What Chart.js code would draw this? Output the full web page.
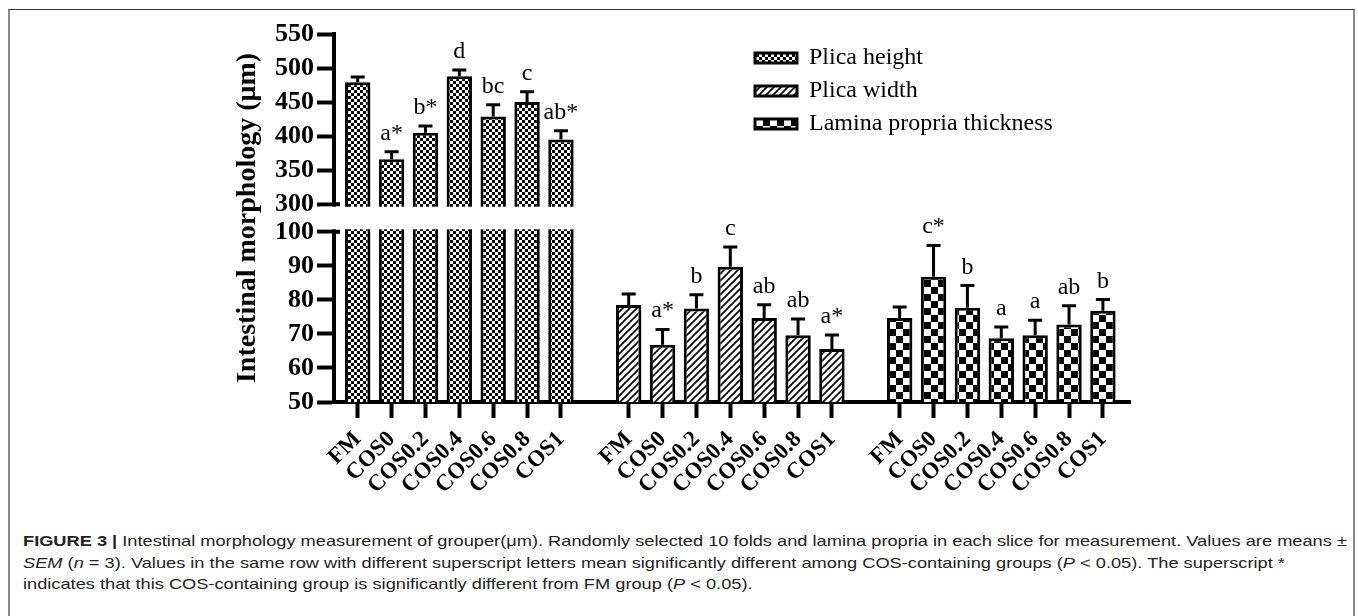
<!DOCTYPE html>
<html>
<head>
<meta charset="utf-8">
<script src="https://cdn.jsdelivr.net/npm/chart.js@4.4.0/dist/chart.umd.min.js"></script>
<style>
  html, body { margin: 0; padding: 0; background: #fff; }
  body { width: 1358px; height: 616px; position: relative; overflow: hidden; }
  #frame { position: absolute; left: 8px; top: 9px; width: 1347px; height: 700px; box-sizing: border-box;
           border: 1px solid #333; border-left: 2px solid #888; border-right: 2px solid #888; }
  #chart { position: absolute; left: 0; top: 0; }
  #caption { position: absolute; left: 23px; top: 530px; font-family: "Liberation Sans", Arial, sans-serif;
             font-size: 15px; line-height: 21.5px; color: #222; white-space: nowrap;
             transform: scaleX(1.215); transform-origin: 0 0; }
</style>
</head>
<body>
<div id="frame"></div>
<canvas id="chart" width="1358" height="530"></canvas>
<div id="caption"><b>FIGURE 3 |</b> Intestinal morphology measurement of grouper(μm). Randomly selected 10 folds and lamina propria in each slice for measurement. Values are means ±<br><i>SEM</i> (<i>n</i> = 3). Values in the same row with different superscript letters mean significantly different among COS-containing groups (<i>P</i> &lt; 0.05). The superscript *<br>indicates that this COS-containing group is significantly different from FM group (<i>P</i> &lt; 0.05).</div>
<script>
var treatments = ['FM', 'COS0', 'COS0.2', 'COS0.4', 'COS0.6', 'COS0.8', 'COS1'];
var seriesNames = ['Plica height', 'Plica width', 'Lamina propria thickness'];

var plicaHeight    = [479, 366, 405, 488, 429, 450, 395];
var plicaHeightSem = [8, 11, 10, 9, 17, 15, 13];
var plicaWidth     = [78.5, 66.8, 77.5, 89.7, 74.7, 69.6, 65.6];
var plicaWidthSem  = [3.2, 4.5, 4, 5.8, 3.9, 4.8, 4.1];
var lamina         = [74.7, 86.8, 77.7, 68.7, 69.6, 72.8, 76.8];
var laminaSem      = [3.2, 9.2, 6.5, 3.3, 4.4, 5.5, 3.3];

var heightLetters = ['', 'a*', 'b*', 'd', 'bc', 'c', 'ab*'];
var widthLetters  = ['', 'a*', 'b', 'c', 'ab', 'ab', 'a*'];
var laminaLetters = ['', 'c*', 'b', 'a', 'a', 'ab', 'b'];

var lowTicks  = [50, 60, 70, 80, 90, 100];
var highTicks = [300, 350, 400, 450, 500, 550];

var SERIF = '"Liberation Serif", "Times New Roman", serif';

// broken y axis: 50-100 as is, 300-550 squeezed (1:5) above a small gap
var BREAK_GAP = 8.1;
function toAxis(v){
  return v <= 100 ? v : 100 + BREAK_GAP + (v - 300) / 5;
}
function slot(g, i){ return g * 8 + i; }

function checkerPattern(cell){
  var c = document.createElement('canvas');
  c.width = c.height = cell * 2;
  var g = c.getContext('2d');
  g.fillStyle = '#fff'; g.fillRect(0, 0, c.width, c.height);
  g.fillStyle = '#000';
  g.fillRect(0, 0, cell, cell);
  g.fillRect(cell, cell, cell, cell);
  return g.createPattern(c, 'repeat');
}
function hatchPattern(step){
  var c = document.createElement('canvas');
  c.width = c.height = step;
  var g = c.getContext('2d');
  g.fillStyle = '#fff'; g.fillRect(0, 0, step, step);
  g.strokeStyle = '#000'; g.lineWidth = 1.6;
  g.beginPath();
  g.moveTo(-1, step + 1); g.lineTo(step + 1, -1);
  g.moveTo(-1, 1); g.lineTo(1, -1);
  g.moveTo(step - 1, step + 1); g.lineTo(step + 1, step - 1);
  g.stroke();
  return g.createPattern(c, 'repeat');
}

var series = [
  {values: plicaHeight, sem: plicaHeightSem, letters: heightLetters, fill: checkerPattern(3)},
  {values: plicaWidth,  sem: plicaWidthSem,  letters: widthLetters,  fill: hatchPattern(7)},
  {values: lamina,      sem: laminaSem,      letters: laminaLetters, fill: checkerPattern(7)}
];

var xSlots = [];
series.forEach(function(s, g){ treatments.forEach(function(t, i){ xSlots.push(slot(g, i)); }); });
var yTickValues = lowTicks.concat(highTicks);

var datasets = series.map(function(s, g){
  return {
    label: seriesNames[g],
    data: s.values.map(function(v, i){ return {x: slot(g, i), y: toAxis(v)}; }),
    backgroundColor: s.fill,
    borderColor: '#000',
    borderWidth: 3,
    grouped: false,
    barPercentage: 0.75,
    categoryPercentage: 1
  };
});

var extras = {
  id: 'extras',
  afterLayout: function(chart){
    chart.legend.left = 746;
    chart.legend.top = 37;
  },
  afterDatasetsDraw: function(chart){
    var ctx = chart.ctx, xs = chart.scales.x, ys = chart.scales.y;
    var yHi = ys.getPixelForValue(toAxis(300)), yLo = ys.getPixelForValue(100);
    var xEnd = xs.getPixelForValue(6.7);
    ctx.save();
    // cut the axis and the tall bars at the break
    ctx.fillStyle = '#fff';
    ctx.fillRect(ys.right - 14, yHi + 2.5, xEnd - ys.right + 14, yLo - yHi - 5);
    ctx.fillStyle = '#000';
    ctx.fillRect(ys.right, yHi - 2, 6, 4);
    ctx.fillRect(ys.right, yLo - 2, 6, 4);
    // error bars (upper only) and letters
    ctx.strokeStyle = '#000';
    ctx.lineWidth = 3;
    ctx.font = '24px ' + SERIF;
    ctx.textAlign = 'center';
    ctx.textBaseline = 'alphabetic';
    series.forEach(function(s, g){
      s.values.forEach(function(v, i){
        var px = xs.getPixelForValue(slot(g, i));
        var pBar = ys.getPixelForValue(toAxis(v));
        var pTop = ys.getPixelForValue(toAxis(v + s.sem[i]));
        ctx.beginPath();
        ctx.moveTo(px, pBar); ctx.lineTo(px, pTop);
        ctx.moveTo(px - 7, pTop); ctx.lineTo(px + 7, pTop);
        ctx.stroke();
        if (s.letters[i]) ctx.fillText(s.letters[i], px, pTop - 12);
      });
    });
    ctx.restore();
  }
};

new Chart(document.getElementById('chart'), {
  type: 'bar',
  data: { datasets: datasets },
  options: {
    responsive: false,
    animation: false,
    layout: { padding: { left: 231, right: 228, top: 34, bottom: 18 } },
    plugins: {
      tooltip: { enabled: false },
      legend: {
        position: 'chartArea',
        align: 'start',
        labels: {
          boxWidth: 42, boxHeight: 10, padding: 9,
          color: '#000',
          font: { family: SERIF, size: 24 }
        }
      }
    },
    scales: {
      x: {
        type: 'linear',
        min: -0.7, max: 22.8,
        offset: false,
        afterBuildTicks: function(scale){
          scale.ticks = xSlots.map(function(v){ return {value: v}; });
        },
        afterFit: function(scale){ scale.height = 110; },
        grid: { offset: false, drawOnChartArea: false, color: '#000', tickLength: 16, tickWidth: 4 },
        border: { display: true, color: '#000', width: 4 },
        ticks: {
          autoSkip: false, minRotation: 45, maxRotation: 45, padding: 8,
          color: '#000',
          font: { family: SERIF, size: 23, weight: 'bold' },
          callback: function(val, i){ return treatments[i % treatments.length]; }
        }
      },
      y: {
        type: 'linear',
        min: 50, max: toAxis(550),
        afterBuildTicks: function(scale){
          scale.ticks = yTickValues.map(function(v){ return {value: toAxis(v)}; });
        },
        afterFit: function(scale){ scale.width = 103; },
        grid: { drawOnChartArea: false, color: '#000', tickLength: 17, tickWidth: 4 },
        border: { display: true, color: '#000', width: 4 },
        ticks: {
          autoSkip: false, padding: 3, color: '#000',
          font: { family: SERIF, size: 26, weight: 'bold' },
          callback: function(val, i){ return String(yTickValues[i]); }
        },
        title: {
          display: true,
          text: 'Intestinal morphology (μm)',
          color: '#000',
          padding: { top: 0, bottom: 0 },
          font: { family: SERIF, size: 28, weight: 'bold' }
        }
      }
    }
  },
  plugins: [extras]
});
</script>
</body>
</html>
